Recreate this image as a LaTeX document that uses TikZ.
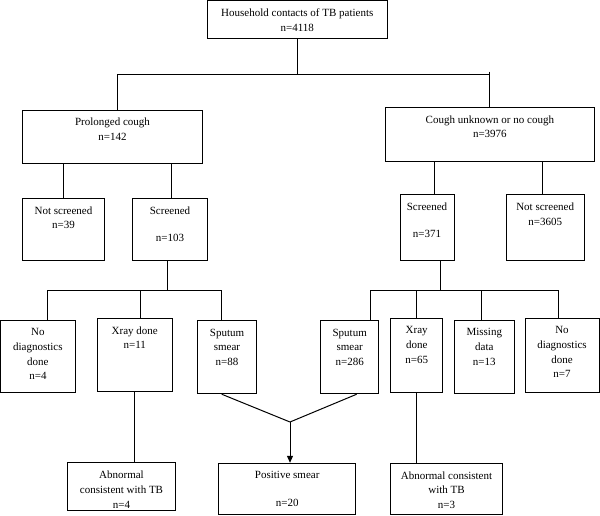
\documentclass[tikz,border=0pt]{standalone}
\usepackage{fontspec}
\setmainfont{Liberation Serif}
\usetikzlibrary{arrows.meta}
\begin{document}
\begin{tikzpicture}[x=1pt,y=-1pt,
  box/.style={draw=black, line width=1pt, inner sep=0pt},
  lbl/.style={anchor=north, align=center, inner xsep=1pt, inner ysep=8.5pt,
    font=\fontsize{11pt}{14.8pt}\selectfont},
  conn/.style={draw=black, line width=1pt},
  arr/.style={conn, -{Triangle[length=7pt,width=6pt]}}]
\useasboundingbox (0,0) rectangle (600,515);
% boxes
\node[box, minimum width=180pt, minimum height=37.8pt,
  label={[lbl]north:{Household contacts of TB patients\\n=4118}}] (top) at (297.3,19.4) {};
\node[box, minimum width=179.6pt, minimum height=53.3pt,
  label={[lbl]north:{Prolonged cough\\n=142}}] (pc) at (112.5,136.65) {};
\node[box, minimum width=208.3pt, minimum height=54.4pt,
  label={[lbl]north:{Cough unknown or no cough\\n=3976}}] (cu) at (489.85,134.5) {};
\node[box, minimum width=81.6pt, minimum height=62pt,
  label={[lbl]north:{Not screened\\n=39}}] (nsL) at (63.5,229.3) {};
\node[box, minimum width=74.6pt, minimum height=62pt,
  label={[lbl]north:{Screened\\[12.5pt]n=103}}] (scL) at (170,229.3) {};
\node[box, minimum width=54pt, minimum height=65.6pt,
  label={[lbl]north:{Screened\\[12.5pt]n=371}}] (scR) at (427,227.5) {};
\node[box, minimum width=78.3pt, minimum height=65.6pt,
  label={[lbl]north:{Not screened\\n=3605}}] (nsR) at (545.15,227.5) {};
\node[box, minimum width=74.8pt, minimum height=72.7pt,
  label={[lbl]north:{No\\diagnostics\\done\\n=4}}] (ndL) at (37.9,356.35) {};
\node[box, minimum width=75pt, minimum height=72.7pt,
  label={[lbl]north:{Xray done\\n=11}}] (xrL) at (134.8,354.65) {};
\node[box, minimum width=58.6pt, minimum height=73pt,
  label={[lbl]north:{Sputum\\smear\\n=88}}] (spL) at (227,357.2) {};
\node[box, minimum width=58pt, minimum height=73pt,
  label={[lbl]north:{Sputum\\smear\\n=286}}] (spR) at (349.7,357.2) {};
\node[box, minimum width=52pt, minimum height=74.4pt,
  label={[lbl]north:{Xray\\done\\n=65}}] (xrR) at (416.7,355.5) {};
\node[box, minimum width=60pt, minimum height=73.7pt,
  label={[lbl]north:{Missing\\data\\n=13}}] (md) at (484.3,356.85) {};
\node[box, minimum width=74pt, minimum height=74pt,
  label={[lbl]north:{No\\diagnostics\\done\\n=7}}] (ndR) at (562,355) {};
\node[box, minimum width=108.4pt, minimum height=47.6pt,
  label={[lbl]north:{Abnormal\\consistent with TB\\n=4}}] (abL) at (121.5,486.5) {};
\node[box, minimum width=137pt, minimum height=51pt,
  label={[lbl]north:{Positive smear\\[13pt]n=20}}] (ps) at (287.2,488.8) {};
\node[box, minimum width=111.6pt, minimum height=51pt,
  label={[lbl]north:{Abnormal consistent\\with TB\\n=3}}] (abR) at (446.5,488.8) {};
% junction coordinates
\coordinate (b0) at (297.3,74);
\coordinate (bL) at (117.3,74);
\coordinate (bR) at (489,74);
\coordinate (bRt) at (489,71.7);
\coordinate (c1) at (434,161.7);
\coordinate (c2) at (542.3,161.7);
\coordinate (sL) at (167,290);
\coordinate (l1) at (47.7,290);
\coordinate (l2) at (140.3,290);
\coordinate (l3) at (221.7,290);
\coordinate (sR) at (440,290);
\coordinate (r1) at (370.3,290);
\coordinate (r2) at (416,290);
\coordinate (r3) at (481,290);
\coordinate (r4) at (558.7,290);
\coordinate (m) at (290,422);
% connectors
\draw[conn] (top.south) -- (b0);
\draw[conn] (bL) -- (bR);
\draw[conn] (bL) -- (bL |- pc.north);
\draw[conn] (bRt) -- (bR |- cu.north);
\draw[conn] (pc.south -| nsL.north) -- (nsL.north);
\draw[conn] ([xshift=1.3pt]pc.south -| scL.north) -- ([xshift=1.3pt]scL.north);
\draw[conn] (c1) -- (c1 |- scR.north);
\draw[conn] (c2) -- (c2 |- nsR.north);
\draw[conn] (sL |- scL.south) -- (sL);
\draw[conn] (l1) -- (l3);
\draw[conn] (l1) -- (l1 |- ndL.north);
\draw[conn] (l2) -- (l2 |- xrL.north);
\draw[conn] (l3) -- (l3 |- spL.north);
\draw[conn] (sR |- scR.south) -- (sR);
\draw[conn] (r1) -- (r4);
\draw[conn] (r1) -- (r1 |- spR.north);
\draw[conn] (r2) -- (r2 |- xrR.north);
\draw[conn] (r3) -- (r3 |- md.north);
\draw[conn] (r4) -- (r4 |- ndR.north);
\draw[conn] (xrL.south) -- (xrL.south |- abL.north);
\draw[conn] (xrR.south) -- (xrR.south |- abR.north);
\draw[conn] ([xshift=-5.3pt]spL.south) -- (m);
\draw[conn] ([xshift=7pt]spR.south) -- (m);
\draw[arr] (m) -- (m |- ps.north);
\end{tikzpicture}
\end{document}
